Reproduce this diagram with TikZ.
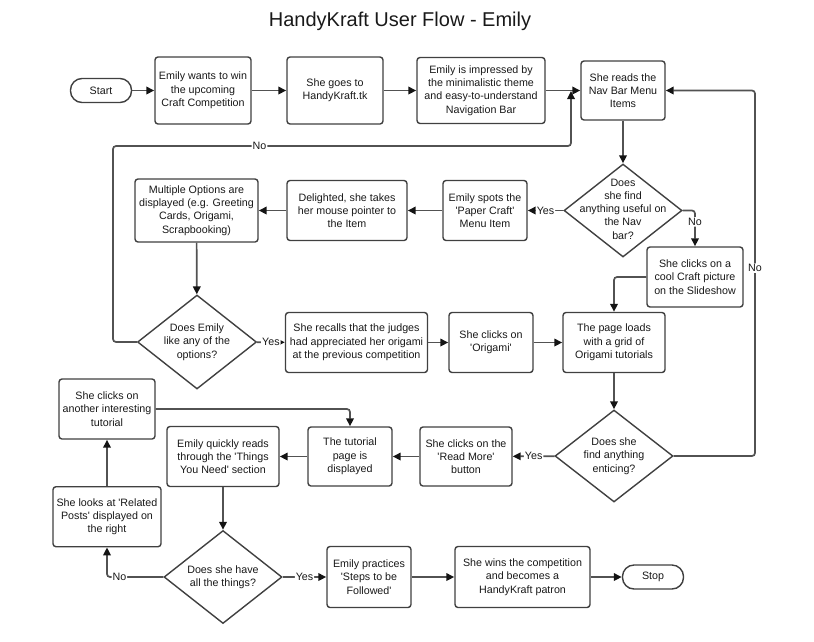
\documentclass[tikz,border=0pt]{standalone}
\usepackage{fontspec}
\setmainfont{Liberation Sans}[Ligatures=TeXOff]
\usetikzlibrary{shapes.geometric,arrows.meta}
\begin{document}
\begin{tikzpicture}[x=1pt,y=-1pt,
 every node/.style={font=\fontsize{10.7}{13.3}\selectfont, text=black!90},
 proc/.style={draw=black!75, line width=1.4pt, rounded corners=3pt, fill=white, align=center, inner sep=0pt},
 term/.style={draw=black!75, line width=1.4pt, rounded corners=11.5pt, minimum width=61pt, minimum height=24pt, inner sep=0pt, fill=white},
 dec/.style={draw=black!75, line width=1.4pt, diamond, inner sep=0pt, minimum width=118pt, minimum height=93pt, fill=white},
 dtext/.style={align=center, inner sep=0pt},
 arr/.style={draw=black!68, line width=1.7pt, -{Triangle[length=8pt,width=7.5pt,color=black!92]}, rounded corners=3pt},
 lbl/.style={fill=white, inner sep=1pt},
]
\useasboundingbox (0,0) rectangle (814,641);
\node[font=\fontsize{20}{24}\selectfont] (title) at (400,21) {HandyKraft User Flow - Emily};

\node[term] (start) at (101,90.5) {Start};
\node[proc, minimum width=96pt, minimum height=67pt] (b1) at (203,90.5) {Emily wants to win\\the upcoming\\Craft Competition};
\node[proc, minimum width=96pt, minimum height=67pt] (b2) at (335,90.5) {She goes to\\HandyKraft.tk};
\node[proc, minimum width=128pt, minimum height=66pt] (b3) at (481,90.5) {Emily is impressed by\\the minimalistic theme\\and easy-to-understand\\Navigation Bar};
\node[proc, minimum width=84pt, minimum height=59pt] (b4) at (623,90.5) {She reads the\\Nav Bar Menu\\Items};

\node[dec] (d1) at (623,210.5) {};
\node[dtext] (d1t) at (623,209) {Does\\she find\\anything useful on\\the Nav\\bar?};
\node[proc, minimum width=84pt, minimum height=60pt] (spots) at (485,210.5) {Emily spots the\\'Paper Craft'\\Menu Item};
\node[proc, minimum width=120pt, minimum height=60pt] (deli) at (347,210.5) {Delighted, she takes\\her mouse pointer to\\the Item};
\node[proc, minimum width=123pt, minimum height=63pt] (mult) at (196.5,210.5) {Multiple Options are\\displayed (e.g. Greeting\\Cards, Origami,\\Scrapbooking)};
\node[proc, minimum width=96pt, minimum height=60pt] (slide) at (695,277) {She clicks on a\\cool Craft picture\\on the Slideshow};

\node[dec, minimum width=119pt, minimum height=94pt] (d2) at (197,342) {};
\node[dtext] (d2t) at (197,342) {Does Emily\\like any of the\\options?};
\node[proc, minimum width=142pt, minimum height=60pt] (rec) at (356.5,342.5) {She recalls that the judges\\had appreciated her origami\\at the previous competition};
\node[proc, minimum width=84pt, minimum height=60pt] (ori) at (491,342.5) {She clicks on\\'Origami'};
\node[proc, minimum width=102pt, minimum height=60pt] (pl) at (614,342.5) {The page loads\\with a grid of\\Origami tutorials};

\node[dec, minimum height=92pt] (d3) at (614,456) {};
\node[dtext] (d3t) at (614,456) {Does she\\find anything\\enticing?};
\node[proc, minimum width=92pt, minimum height=59pt] (rm) at (466,456.5) {She clicks on the\\'Read More'\\button};
\node[proc, minimum width=84pt, minimum height=59pt] (tut) at (350,456.5) {The tutorial\\page is\\displayed};
\node[proc, minimum width=112pt, minimum height=60pt] (quick) at (223,456.5) {Emily quickly reads\\through the 'Things\\You Need' section};
\node[proc, minimum width=96pt, minimum height=60pt] (another) at (107,409) {She clicks on\\another interesting\\tutorial};
\node[proc, minimum width=108pt, minimum height=60pt] (rel) at (107,516.7) {She looks at 'Related\\Posts' displayed on\\the right};

\node[dec] (d4) at (223,577) {};
\node[dtext] (d4t) at (223,577) {Does she have\\all the things?};
\node[proc, minimum width=84pt, minimum height=61pt] (prac) at (369,577) {Emily practices\\'Steps to be\\Followed'};
\node[proc, minimum width=135pt, minimum height=61pt] (win) at (522.5,577) {She wins the competition\\and becomes a\\HandyKraft patron};
\node[term] (stop) at (653,577) {Stop};

\coordinate (rt) at (755,90.5);
\coordinate (lc) at (113,146);
\coordinate (up) at (571,91);

\draw[arr] (start) -- (b1);
\draw[arr] (b1) -- (b2);
\draw[arr] (b2) -- (b3);
\draw[arr] (b3) -- (b4);
\draw[arr] (b4) -- (d1);
\draw[arr] (d1) -- node[lbl]{Yes} (spots);
\draw[arr] (spots) -- (deli);
\draw[arr] (deli) -- (mult);
\draw[arr] (mult) -- (d2);
\draw[arr] (d2) -- node[lbl]{Yes} (rec);
\draw[arr] (rec) -- (ori);
\draw[arr] (ori) -- (pl);
\draw[arr] (d1.east) -| node[lbl,pos=0.66]{No} (slide.north);
\draw[arr] (slide.west) -| (pl.north);
\draw[arr] (pl) -- (d3);
\draw[arr] (d3) -- node[lbl]{Yes} (rm);
\draw[arr] (rm) -- (tut);
\draw[arr] (tut) -- (quick);
\draw[arr] (quick) -- (d4);
\draw[arr] (d4) -- node[lbl]{Yes} (prac);
\draw[arr] (prac) -- (win);
\draw[arr] (win) -- (stop);
\draw[arr] (d4.west) -| node[lbl,pos=0.39]{No} (rel.south);
\draw[arr] (rel) -- (another);
\draw[arr] (another.east) -| (tut.north);
\draw[arr] (d3.east) -| node[lbl,pos=0.757]{No} (rt) -- (b4.east);
\draw[arr] (d2.west) -| (lc) -| node[lbl,pos=0.16]{No} (up);
\end{tikzpicture}
\end{document}
